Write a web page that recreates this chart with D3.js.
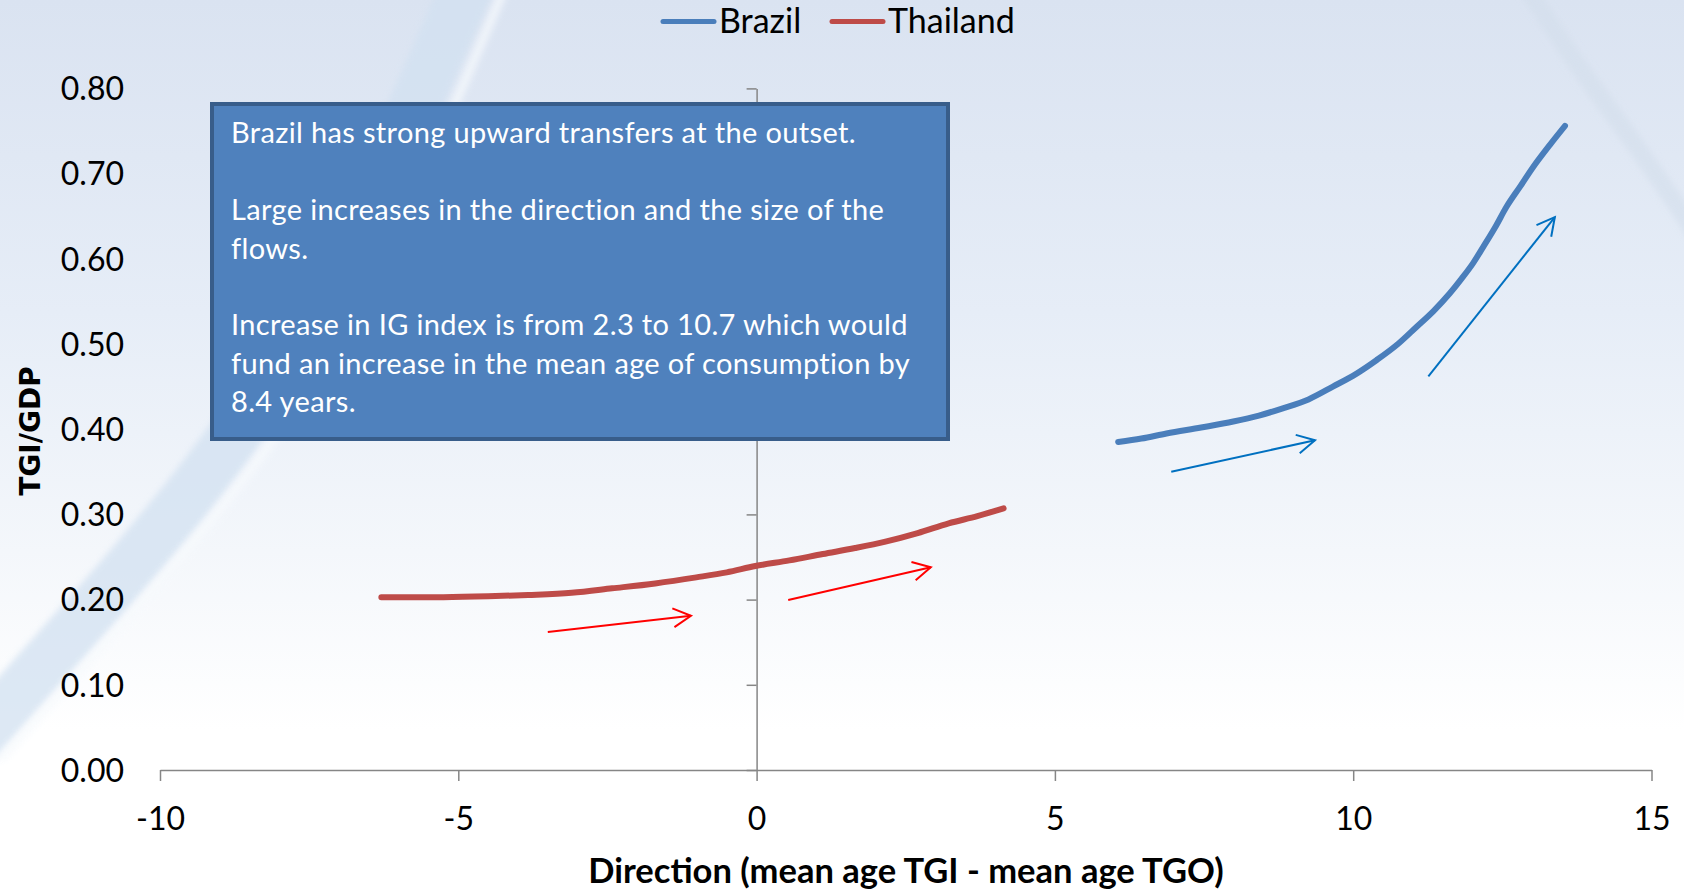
<!DOCTYPE html>
<html>
<head>
<meta charset="utf-8">
<script src="https://cdn.jsdelivr.net/npm/d3@7"></script>
<style>
  html, body { margin: 0; padding: 0; background: #ffffff; }
  svg { display: block; font-family: Lato, "Open Sans", "DejaVu Sans", sans-serif; }
</style>
</head>
<body>
<svg id="chart" width="1684" height="890"></svg>
<script>
// ---- data ----
const seriesNames = ["Brazil", "Thailand"];
const seriesColors = ["#4a7ebb", "#be4b48"];

// Brazil: direction (x) vs TGI/GDP (y)
const brazilX = [6.06, 6.45, 6.87, 7.45, 7.99, 8.42, 8.82, 9.25, 9.66, 10.05, 10.39, 10.75,
                 11.06, 11.35, 11.62, 11.82, 12.01, 12.18, 12.38, 12.57, 12.80, 13.02, 13.30, 13.55];
const brazilY = [0.385, 0.389, 0.395, 0.402, 0.409, 0.416, 0.4245, 0.435, 0.450, 0.465, 0.481, 0.500,
                 0.520, 0.539, 0.5595, 0.577, 0.595, 0.614, 0.637, 0.661, 0.685, 0.708, 0.734, 0.756];

// Thailand
const thailandX = [-6.29, -5.75, -5.25, -4.50, -3.83, -3.10, -2.42, -1.70, -1.01, -0.50, -0.02,
                   0.55, 1.11, 1.65, 2.16, 2.70, 3.22, 3.70, 4.14];
const thailandY = [0.2027, 0.2027, 0.2028, 0.2038, 0.2054, 0.2080, 0.2132, 0.2190, 0.2261, 0.2320, 0.2394,
                   0.2460, 0.2535, 0.2605, 0.2680, 0.2780, 0.2895, 0.2980, 0.3070];

// trend arrows (data units)
const arrowFromX = [-3.50, 0.53, 6.95, 11.26];
const arrowFromY = [0.162, 0.1995, 0.350, 0.462];
const arrowToX   = [-1.10, 2.92, 9.36, 13.38];
const arrowToY   = [0.181, 0.238, 0.387, 0.649];
const arrowColor = ["#ff0000", "#ff0000", "#0070c0", "#0070c0"];

const xTicks = [-10, -5, 0, 5, 10, 15];
const yTicks = [0, 0.1, 0.2, 0.3, 0.4, 0.5, 0.6, 0.7, 0.8];

const xTitle = "Direction (mean age TGI - mean age TGO)";
const yTitle = "TGI/GDP";

const noteLines = [
  "Brazil has strong upward transfers at the outset.",
  "",
  "Large increases in the direction and the size of the",
  "flows.",
  "",
  "Increase in IG index is from 2.3 to 10.7 which would",
  "fund an increase in the mean age of consumption by",
  "8.4 years."
];

// ---- layout ----
const W = 1684, H = 890;
const svg = d3.select("#chart");

const x = d3.scaleLinear().domain([-10, 15]).range([160, 1651.5]);
const y = d3.scaleLinear().domain([0, 0.8]).range([770, 88.4]);

// ---- background ----
const defs = svg.append("defs");
const bg = defs.append("linearGradient").attr("id", "bgGrad")
  .attr("x1", 0).attr("y1", 0).attr("x2", 0).attr("y2", 1);
bg.append("stop").attr("offset", "0%").attr("stop-color", "#dae3f1");
bg.append("stop").attr("offset", "35%").attr("stop-color", "#e6edf7");
bg.append("stop").attr("offset", "62%").attr("stop-color", "#f4f7fb");
bg.append("stop").attr("offset", "82%").attr("stop-color", "#ffffff");
bg.append("stop").attr("offset", "100%").attr("stop-color", "#ffffff");

const blurF = defs.append("filter").attr("id", "soft").attr("x", "-20%").attr("y", "-20%")
  .attr("width", "140%").attr("height", "140%");
blurF.append("feGaussianBlur").attr("stdDeviation", 3);

svg.append("rect").attr("width", W).attr("height", H).attr("fill", "url(#bgGrad)");

// decorative swooshes
const swoosh = d3.line().curve(d3.curveBasis);
svg.append("path")
  .attr("d", swoosh([[470, -20], [400, 140], [320, 310], [220, 460], [120, 580], [30, 680], [-40, 760]]))
  .attr("fill", "none").attr("stroke", "#d2e1f1").attr("stroke-width", 52)
  .attr("opacity", 0.75).attr("filter", "url(#soft)");
svg.append("path")
  .attr("d", swoosh([[508, -20], [440, 140], [362, 310], [262, 460], [162, 580], [72, 680], [0, 760]]))
  .attr("fill", "none").attr("stroke", "#f7fafd").attr("stroke-width", 10)
  .attr("opacity", 0.7).attr("filter", "url(#soft)");
svg.append("path")
  .attr("d", swoosh([[1528, -10], [1580, 70], [1640, 150], [1700, 240]]))
  .attr("fill", "none").attr("stroke", "#d3deeb").attr("stroke-width", 18)
  .attr("opacity", 0.6).attr("filter", "url(#soft)");

// ---- axes ----
const axisColor = "#868686";

const xAxis = svg.append("g")
  .attr("transform", `translate(0,${y(0)})`)
  .call(d3.axisBottom(x).tickValues(xTicks).tickSize(11).tickSizeOuter(0).tickFormat(""));
xAxis.select(".domain").attr("stroke", axisColor).attr("stroke-width", 1.5);
xAxis.selectAll(".tick line").attr("stroke", axisColor).attr("stroke-width", 1.5);

const yAxis = svg.append("g")
  .attr("transform", `translate(${x(0)},0)`)
  .call(d3.axisLeft(y).tickValues(yTicks).tickSize(10).tickSizeOuter(0).tickFormat(""));
yAxis.select(".domain").attr("stroke", axisColor).attr("stroke-width", 1.5);
yAxis.selectAll(".tick line").attr("stroke", axisColor).attr("stroke-width", 1.5);

// tick labels sit at the low end of the plot
const xLab = svg.append("g")
  .attr("transform", `translate(0,${y(0) + 60})`)
  .call(d3.axisBottom(x).tickValues(xTicks).tickSize(0).tickFormat(d => String(d)));
xLab.select(".domain").remove();
xLab.selectAll("text").attr("font-family", "Lato, sans-serif").attr("font-size", 32)
  .attr("fill", "#000").attr("dy", 0).attr("y", 0);

const yLab = svg.append("g")
  .attr("transform", `translate(124,0)`)
  .call(d3.axisLeft(y).tickValues(yTicks).tickSize(0).tickFormat(d3.format(".2f")));
yLab.select(".domain").remove();
yLab.selectAll("text").attr("font-family", "Lato, sans-serif").attr("font-size", 32)
  .attr("fill", "#000").attr("x", 0).attr("dy", "0.35em");

// axis titles
svg.append("text")
  .attr("x", 906).attr("y", 883)
  .attr("text-anchor", "middle")
  .attr("font-family", "Lato, sans-serif").attr("font-weight", "bold").attr("font-size", 34.5)
  .attr("fill", "#000").text(xTitle);

svg.append("text")
  .attr("transform", "translate(40,431) rotate(-90)")
  .attr("text-anchor", "middle")
  .attr("font-family", "'DejaVu Sans', Verdana, sans-serif").attr("font-weight", "bold").attr("font-size", 28)
  .attr("fill", "#000").text(yTitle);

// ---- note box ----
const box = svg.append("g");
box.append("rect")
  .attr("x", 212).attr("y", 104).attr("width", 736).attr("height", 335)
  .attr("fill", "#4f81bd").attr("stroke", "#385d8a").attr("stroke-width", 4);
box.selectAll("text.note").data(noteLines).join("text")
  .attr("class", "note")
  .attr("x", 231).attr("y", (d, i) => 143.3 + i * 38.4)
  .attr("font-family", "Lato, sans-serif").attr("font-size", 29)
  .attr("letter-spacing", 0.35)
  .attr("fill", "#ffffff").text(d => d);

// ---- series lines ----
const line = d3.line().x(d => x(d[0])).y(d => y(d[1])).curve(d3.curveMonotoneX);
const seriesData = [
  d3.zip(brazilX, brazilY),
  d3.zip(thailandX, thailandY)
];
svg.append("g").selectAll("path").data(seriesData).join("path")
  .attr("d", line)
  .attr("fill", "none")
  .attr("stroke", (d, i) => seriesColors[i])
  .attr("stroke-width", 6)
  .attr("stroke-linecap", "round")
  .attr("stroke-linejoin", "round");

// ---- trend arrows ----
["#ff0000", "#0070c0"].forEach((c, k) => {
  defs.append("marker")
    .attr("id", "head" + k)
    .attr("markerUnits", "userSpaceOnUse")
    .attr("viewBox", "-20 -12 24 24")
    .attr("refX", 0).attr("refY", 0)
    .attr("markerWidth", 24).attr("markerHeight", 24)
    .attr("orient", "auto")
    .append("path")
    .attr("d", "M-17.7,-9.4L0,0L-17.7,9.4")
    .attr("fill", "none").attr("stroke", c).attr("stroke-width", 2);
});
svg.append("g").selectAll("line").data(arrowFromX.map((d, i) => i)).join("line")
  .attr("x1", i => x(arrowFromX[i])).attr("y1", i => y(arrowFromY[i]))
  .attr("x2", i => x(arrowToX[i])).attr("y2", i => y(arrowToY[i]))
  .attr("stroke", i => arrowColor[i]).attr("stroke-width", 2)
  .attr("marker-end", i => arrowColor[i] === "#ff0000" ? "url(#head0)" : "url(#head1)");

// ---- legend ----
const legendX = [663, 832];
const legend = svg.append("g").selectAll("g").data(seriesNames).join("g")
  .attr("transform", (d, i) => `translate(${legendX[i]},0)`);
legend.append("line")
  .attr("x1", 0).attr("x2", 51).attr("y1", 21.5).attr("y2", 21.5)
  .attr("stroke", (d, i) => seriesColors[i]).attr("stroke-width", 5)
  .attr("stroke-linecap", "round");
legend.append("text")
  .attr("x", 56).attr("y", 33)
  .attr("font-family", "Lato, sans-serif").attr("font-size", 34)
  .attr("fill", "#000").text(d => d);
</script>
</body>
</html>
